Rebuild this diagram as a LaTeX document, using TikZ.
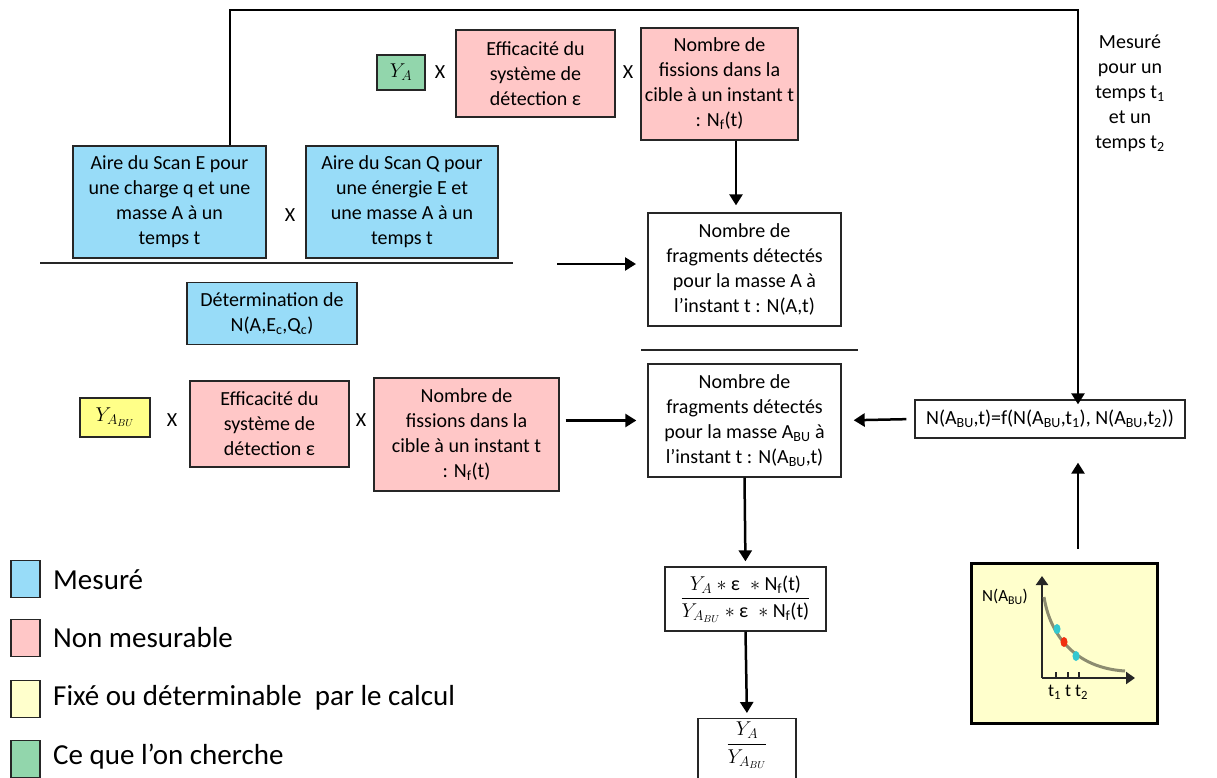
\RequirePackage{fix-cm}
\documentclass[tikz,border=0pt]{standalone}
\usepackage{amsmath}
\usepackage{fontspec}
\setmainfont{Carlito}
\usetikzlibrary{arrows.meta}
\definecolor{cblue}{HTML}{98DCF8}
\definecolor{cpink}{HTML}{FFC7C7}
\definecolor{cgreen}{HTML}{92D6AC}
\definecolor{cyel}{HTML}{FFFF88}
\definecolor{cyellt}{HTML}{FFFFCC}
\definecolor{ccurve}{HTML}{8C8C70}
\definecolor{ccyan}{HTML}{33C8D0}
\definecolor{cred}{HTML}{F03010}
\begin{document}
\begin{tikzpicture}[x=1pt,y=-1pt,
  bx/.style={draw=black!85, line width=1.3pt, align=center, inner sep=0pt, font=\fontsize{20}{25}\selectfont},
  lbl/.style={align=center, inner sep=0pt, font=\fontsize{20}{25}\selectfont},
  conn/.style={line width=2.5pt, -{Triangle[length=11pt,width=13pt]}},
  rule/.style={line width=1.3pt, draw=black!85},
  leg/.style={draw=black!85, line width=1.3pt, minimum width=29pt, minimum height=37pt, inner sep=0pt},
  legt/.style={anchor=west, inner sep=0pt, font=\fontsize{29}{34}\selectfont},
  axis/.style={line width=2.5pt, draw=black!85, -{Triangle[length=9pt,width=12pt]}}]
\useasboundingbox (0,0) rectangle (1217,778);

% top row
\node[bx, fill=cgreen, minimum width=48pt, minimum height=35pt] (ya) at (401,72.5) {$Y_A$};
\node[lbl] (x1) at (440,72) {X};
\node[bx, fill=cpink, minimum width=159pt, minimum height=87pt] (eff1) at (535.5,73.5) {Efficacité du\\système de\\détection ε};
\node[lbl] (x2) at (628,72) {X};
\node[bx, fill=cpink, minimum width=157pt, minimum height=112pt] (fis1) at (719.5,84) {Nombre de\\fissions dans la\\cible à un instant t\\: N\textsubscript{f}(t)};

% scans
\node[bx, fill=cblue, minimum width=193pt, minimum height=112pt] (aireE) at (169.5,202) {Aire du Scan E pour\\une charge q et une\\masse A à un\\temps t};
\node[lbl] (x3) at (290,215) {X};
\node[bx, fill=cblue, minimum width=192pt, minimum height=112pt] (aireQ) at (402,202) {Aire du Scan Q pour\\une énergie E et\\une masse A à un\\temps t};
\node[bx, fill=cblue, minimum width=170pt, minimum height=62pt] (det) at (272,313.5) {Détermination de\\N(A,E\textsubscript{c},Q\textsubscript{c})};
\draw[rule] (40,263) -- (513,263);

\node[bx, fill=white, minimum width=193pt, minimum height=113pt] (fragA) at (744.5,269.5) {Nombre de\\fragments détectés\\pour la masse A à\\l’instant t : N(A,t)};
\draw[rule] (641,350) -- (858,350);

% ABU row
\node[bx, fill=cyel, minimum width=70pt, minimum height=39pt] (yabu) at (115,417.5) {$Y_{A_{BU}}$};
\node[lbl] (x4) at (172,420) {X};
\node[bx, fill=cpink, minimum width=159pt, minimum height=86pt] (eff2) at (269.5,424) {Efficacité du\\système de\\détection ε};
\node[lbl] (x5) at (361,420) {X};
\node[bx, fill=cpink, minimum width=185pt, minimum height=113pt] (fis2) at (466.5,434.5) {Nombre de\\fissions dans la\\cible à un instant t\\: N\textsubscript{f}(t)};
\node[bx, fill=white, minimum width=193pt, minimum height=113pt] (fragB) at (744.5,420.5) {Nombre de\\fragments détectés\\pour la masse A\textsubscript{BU} à\\l’instant t : N(A\textsubscript{BU},t)};
\node[bx, fill=white, minimum width=270pt, minimum height=38pt] (nf) at (1050,419) {N(A\textsubscript{BU},t)=f(N(A\textsubscript{BU},t\textsubscript{1}), N(A\textsubscript{BU},t\textsubscript{2}))};

\node[lbl] (mes) at (1130,93) {Mesuré\\pour un\\temps t\textsubscript{1}\\et un\\temps t\textsubscript{2}};

% fractions
\node[bx, fill=white, minimum width=161pt, minimum height=64pt] (frac) at (745.5,599) {$\dfrac{Y_A * \text{ε}\; * \text{N\textsubscript{f}(t)}}{Y_{A_{BU}} * \text{ε}\; * \text{N\textsubscript{f}(t)}}$};
\node[bx, fill=white, minimum width=98pt, minimum height=72pt, anchor=north] (final) at (747,718) {};
\node[lbl, anchor=north] (finalt) at (747,722) {$\dfrac{Y_A}{Y_{A_{BU}}}$};

% chart
\node[draw=black, line width=3pt, fill=cyellt, minimum width=186pt, minimum height=160pt, inner sep=0pt] (chart) at (1064,643) {};
\coordinate (o) at (1042,678);
\coordinate (ytop) at (1042,576);
\coordinate (xend) at (1135,678);
\draw[axis] (o) -- (ytop);
\draw[axis] (o) -- (xend);
\draw[line width=1.8pt, draw=black!85] (1056,672) -- (1056,678) (1068,672) -- (1068,678) (1079,672) -- (1079,678);
\draw[line width=3pt, ccurve] (1044,597) .. controls (1050,635) and (1075,668) .. (1125,671);
\fill[ccyan] (1057,629) ellipse (3.5pt and 5pt);
\fill[cred] (1064,642) ellipse (3.5pt and 5pt);
\fill[ccyan] (1076,656) ellipse (3.5pt and 5pt);
\node[inner sep=0pt, font=\fontsize{17}{20}\selectfont] (nlab) at (1005,597) {N(A\textsubscript{BU})};
\node[inner sep=0pt, font=\fontsize{18}{20}\selectfont] (tlab) at (1068,692) {t\textsubscript{1} t t\textsubscript{2}};

% connectors
\coordinate (c1) at (230,10);
\coordinate (c2) at (1078,10);
\draw[conn] (aireE.north -| c1) -- (c1) -- (c2) -- ([yshift=-5pt]nf.north -| c2);
\draw[conn, shorten >=7pt] (fis1.south -| 736,0) -- (fragA.north -| 736,0);
\coordinate (a1) at (557,264);
\coordinate (a2) at (636,264);
\draw[conn] (a1) -- (a2);
\draw[conn, shorten <=6pt, shorten >=11pt] (fis2.east |- fragB) -- (fragB.west);
\draw[conn, shorten <=8pt, shorten >=12pt] (nf.west) -- (fragB.east);
\draw[conn, shorten >=5pt] (fragB.south) -- (frac.north);
\draw[conn, shorten >=5pt] (frac.south) -- (final.north);
\draw[conn, shorten <=13pt, shorten >=24pt] (chart.north -| c2) -- (nf.south -| c2);

% legend
\node[leg, fill=cblue] (l1) at (25.5,579) {};
\node[legt] (l1t) at (53,580) {Mesuré};
\node[leg, fill=cpink] (l2) at (25.5,638) {};
\node[legt] (l2t) at (53,638) {Non mesurable};
\node[leg, fill=cyellt] (l3) at (25.5,699) {};
\node[legt] (l3t) at (53,698) {Fixé ou déterminable\ \ par le calcul};
\node[leg, fill=cgreen] (l4) at (25.5,759) {};
\node[legt] (l4t) at (53,757) {Ce que l’on cherche};
\end{tikzpicture}
\end{document}
